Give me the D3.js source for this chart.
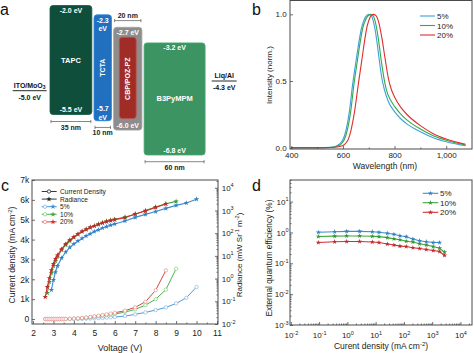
<!DOCTYPE html>
<html>
<head>
<meta charset="utf-8">
<script src="https://cdn.jsdelivr.net/npm/d3@7"></script>
<style>
  body { margin: 0; background: #fff; }
  svg { display: block; font-family: Arial, "Liberation Sans", sans-serif; }
</style>
</head>
<body>
<div id="fig"></div>
<script>
// ---------- panel a : device energy levels ----------
var layerNames = ["TAPC", "TCTA", "CBP/POZ-PZ", "B3PyMPM"];
var layerLumo = [-2.0, -2.3, -2.7, -3.2];
var layerHomo = [-5.5, -5.7, -6.0, -6.8];
var layerThick = [35, 10, 20, 60];
var electrodeNames = ["ITO/MoO", "Liq/Al"];
var electrodeSub = ["3", ""];
var electrodeLevels = [-5.0, -4.3];

// ---------- panel b : EL spectra ----------
var specSeries = ["5%", "10%", "20%"];
var specWl5 = [400, 500, 550, 575, 600, 625, 638, 650, 675, 700, 710, 720, 730, 740, 750, 760, 775, 800, 825, 850, 900, 950, 1000, 1075];
var specI5 = [0, 0, 0.002, 0.012, 0.06, 0.27, 0.48, 0.64, 0.92, 1.0, 0.99, 0.93, 0.82, 0.67, 0.53, 0.44, 0.35, 0.27, 0.215, 0.175, 0.12, 0.075, 0.045, 0.015];
var specWl10 = [400, 500, 550, 580, 605, 630, 643, 655, 680, 707, 717, 727, 737, 748, 759, 769, 785, 800, 825, 850, 900, 950, 1000, 1075];
var specI10 = [0, 0, 0.001, 0.012, 0.06, 0.27, 0.48, 0.64, 0.92, 1.0, 0.99, 0.93, 0.82, 0.66, 0.52, 0.43, 0.355, 0.31, 0.25, 0.205, 0.14, 0.09, 0.055, 0.02];
var specWl20 = [400, 500, 560, 595, 620, 645, 660, 672, 695, 717, 728, 740, 752, 764, 776, 787, 800, 825, 850, 900, 950, 1000, 1075];
var specI20 = [0, 0, 0.001, 0.012, 0.06, 0.27, 0.48, 0.64, 0.92, 1.0, 0.99, 0.93, 0.81, 0.66, 0.52, 0.44, 0.38, 0.30, 0.245, 0.165, 0.105, 0.065, 0.025];

// ---------- panel c : J-V-R ----------
var cdV = [2.6, 2.7, 2.8, 2.9, 3.0, 3.1, 3.2, 3.3, 3.4, 3.5, 3.6, 3.8, 4.0, 4.2, 4.4, 4.6, 4.8, 5.0, 5.2, 5.4, 5.6, 5.8, 6.0, 6.5, 7.0, 7.5, 8.0, 8.5, 9.0, 9.5, 10.0];
var cd5 = [0, 0, 0, 0, 0, 0, 0, 0, 1, 1, 2, 3, 5, 8, 12, 18, 25, 35, 45, 58, 70, 85, 100, 150, 235, 335, 450, 585, 785, 1070, 1615];
var cd10 = [0, 0, 0, 0, 0, 0, 1, 1, 2, 3, 4, 8, 15, 25, 40, 60, 85, 115, 140, 170, 200, 225, 250, 350, 485, 700, 1000, 1480, 2530];
var cd20 = [0, 0, 0, 0, 0, 1, 1, 2, 3, 5, 7, 12, 22, 35, 55, 80, 105, 135, 165, 200, 235, 275, 315, 420, 590, 870, 1450, 2450];
var radV5 = [2.9, 3.0, 3.1, 3.2, 3.4, 3.6, 3.8, 4.0, 4.2, 4.4, 4.6, 4.8, 5.0, 5.2, 5.4, 5.6, 5.8, 6.0, 6.5, 7.0, 7.5, 8.0, 8.5, 9.0, 9.5, 10.0];
var rad5 = [0.315, 0.867, 1.95, 3.59, 8.08, 14.8, 23.7, 33.4, 45.3, 59.0, 75.2, 94.0, 118, 141, 169, 195, 225, 254, 344, 496, 673, 893, 1236, 1676, 2138, 3143];
var radV10 = [2.7, 2.8, 2.9, 3.0, 3.1, 3.2, 3.4, 3.6, 3.8, 4.0, 4.2, 4.4, 4.6, 4.8, 5.0, 5.2, 5.4, 5.6, 5.8, 6.0, 6.5, 7.0, 7.5, 8.0, 8.5, 9.0];
var rad10 = [0.232, 0.708, 1.77, 3.59, 5.96, 9.31, 18.2, 30.2, 45.3, 65.3, 88.5, 118, 147, 180, 212, 249, 293, 337, 374, 405, 517, 687, 989, 1426, 1972, 2513];
var radV20 = [2.6, 2.7, 2.8, 2.9, 3.0, 3.1, 3.2, 3.4, 3.6, 3.8, 4.0, 4.2, 4.4, 4.6, 4.8, 5.0, 5.2, 5.4, 5.6, 5.8, 6.0, 6.5, 7.0, 7.5, 8.0, 8.5];
var rad20 = [0.155, 0.427, 1.06, 2.39, 4.40, 7.30, 10.9, 20.1, 33.4, 50.1, 68.0, 92.2, 120, 147, 180, 207, 244, 281, 324, 359, 397, 476, 700, 950, 1368, 1932];

// ---------- panel d : EQE ----------
var eqeJ = [0.094, 0.356, 0.944, 2.72, 7.62, 13.1, 25.9, 44.4, 72.3, 121, 208, 359, 618, 1094, 1825, 2742];
var eqe5 = [1.01, 1.05, 1.08, 1.08, 1.05, 1.01, 0.94, 0.87, 0.78, 0.73, 0.61, 0.54, 0.50, 0.47, 0.47];
var eqe10 = [0.74, 0.76, 0.77, 0.77, 0.75, 0.73, 0.68, 0.62, 0.58, 0.52, 0.49, 0.43, 0.39, 0.35, 0.31, 0.23];
var eqe20 = [0.47, 0.50, 0.51, 0.51, 0.49, 0.47, 0.42, 0.39, 0.36, 0.35, 0.32, 0.30, 0.28, 0.26, 0.24, 0.18];

var W = 474, H = 353;
var FRAME = "#4a4a4a", TXT = "#222";
var specCol = ["#3f9fdc", "#35a84a", "#dd2f2f"];
var devCol = ["#3a8dd6", "#3aa83a", "#d42f2f"];
var cdCol = ["#7fb9e8", "#7fcf7a", "#ee8c8c"];

var svg = d3.select("#fig").append("svg").attr("width", W).attr("height", H);
svg.append("rect").attr("width", W).attr("height", H).attr("fill", "#fff");

function frame(x0, y0, x1, y1) {
  svg.append("rect").attr("x", x0).attr("y", y0).attr("width", x1 - x0).attr("height", y1 - y0)
    .attr("fill", "none").attr("stroke", FRAME).attr("stroke-width", 1);
}
function styleAxis(g, fs) {
  g.attr("font-size", fs || 8).attr("font-family", null);
  g.select(".domain").remove();
  g.selectAll("line").attr("stroke", FRAME).attr("stroke-width", 0.8);
  g.selectAll("text").attr("fill", TXT);
  return g;
}
function supLabels(g) {
  g.selectAll("text").each(function (d) {
    var t = d3.select(this).text("");
    t.append("tspan").text("10");
    t.append("tspan").attr("dy", -3.5).attr("font-size", 5.5).text(Math.round(Math.log10(d)));
  });
}
function richText(sel, parts, fs) {
  var back = 0;
  parts.forEach(function (p) {
    var t = sel.append("tspan").text(p[0]);
    if (p[1]) { t.attr("dy", -fs * 0.4).attr("font-size", fs * 0.7); back = fs * 0.4; }
    else if (back) { t.attr("dy", back); back = 0; }
  });
}
function panelLetter(x, y, s) {
  svg.append("text").attr("x", x).attr("y", y).attr("font-size", 16).attr("fill", "#111").text(s);
}
function logMinors(lo, hi, maxV) {
  var out = [];
  for (var k = lo; k <= hi; k++) for (var m = 2; m <= 9; m++) {
    var v = m * Math.pow(10, k);
    if (v <= maxV) out.push(v);
  }
  return out;
}

// ================= panel a =================
panelLetter(0, 15, "a");
var gA = svg.append("g");
var colA = ["#0f4e3b", "#2170c0", "#8d8d8d", "#3c9463"];
var ey = d3.scaleLinear().domain([-2.0, -6.8]).range([5.5, 155]);
var wA = d3.scalePow().exponent(0.7).domain([0, 60]).range([0, 61]);
var lx = [], cur = 50;
layerThick.forEach(function (t) { lx.push(cur); cur += wA(t) + 2.2; });

function bold(g, x, y, s, fill, fs) {
  return g.append("text").attr("x", x).attr("y", y).attr("text-anchor", "middle")
    .attr("font-size", fs || 7).attr("font-weight", "bold").attr("fill", fill).text(s);
}
function dimLine(x0, x1, y, label, above) {
  gA.append("line").attr("x1", x0 + 1).attr("x2", x1 - 1).attr("y1", y).attr("y2", y)
    .attr("stroke", "#555").attr("stroke-width", 0.7);
  [x0 + 1, x1 - 1].forEach(function (x) {
    gA.append("line").attr("x1", x).attr("x2", x).attr("y1", y - 1.6).attr("y2", y + 1.6)
      .attr("stroke", "#555").attr("stroke-width", 0.7);
  });
  bold(gA, (x0 + x1) / 2, above ? y - 2.5 : y + 8, label, "#222", 7);
}

layerNames.forEach(function (name, i) {
  var x0 = lx[i], w = wA(layerThick[i]), yt = ey(layerLumo[i]), yb = ey(layerHomo[i]);
  var cx = x0 + w / 2, cy = (yt + yb) / 2;
  gA.append("rect").attr("x", x0).attr("y", yt).attr("width", w).attr("height", yb - yt)
    .attr("rx", 3).attr("fill", colA[i]).attr("stroke", d3.color(colA[i]).brighter(0.4)).attr("stroke-width", 0.8);
  if (i === 2) {
    gA.append("rect").attr("x", x0 + 5.7).attr("y", yt + 10).attr("width", w - 11.4).attr("height", yb - yt - 21.5)
      .attr("rx", 3).attr("fill", "#a02c28").attr("stroke", "#c0504a").attr("stroke-width", 0.8);
  }
  var lumo = layerLumo[i].toFixed(1), homo = layerHomo[i].toFixed(1);
  if (w < 20) {
    bold(gA, cx, yt + 8, lumo, "#fff"); bold(gA, cx, yt + 16.5, "eV", "#fff");
    bold(gA, cx, yb - 9.8, homo, "#fff"); bold(gA, cx, yb - 1.2, "eV", "#fff");
  } else {
    bold(gA, cx, yt + 7.5, lumo + " eV", "#fff");
    bold(gA, cx, yb - 2.5, homo + " eV", "#fff");
  }
  if (i === 1 || i === 2) {
    gA.append("text").attr("transform", "translate(" + cx + "," + cy + ") rotate(-90)")
      .attr("text-anchor", "middle").attr("dy", "0.35em").attr("font-size", 7)
      .attr("font-weight", "bold").attr("fill", "#fff").text(name);
  } else {
    bold(gA, cx, cy + 2.5, name, "#fff", 7.5);
  }
  if (i === 2) dimLine(x0, x0 + w, yt - 6.7, layerThick[i] + " nm", true);
  else dimLine(x0, x0 + w, yb + (i === 0 ? 7 : 6.7), layerThick[i] + " nm", false);
});

var elY = d3.scaleLinear().domain([-4.3, -5.0]).range([81, 90.7]);
var elX = [29.7, 224.2], elW = [34, 25];
electrodeNames.forEach(function (n, i) {
  var y = elY(electrodeLevels[i]);
  gA.append("line").attr("x1", elX[i] - elW[i] / 2).attr("x2", elX[i] + elW[i] / 2)
    .attr("y1", y).attr("y2", y).attr("stroke", "#111").attr("stroke-width", 0.9);
  var t = bold(gA, elX[i], y - 3, "", "#111", 7);
  t.append("tspan").text(n);
  if (electrodeSub[i]) t.append("tspan").attr("dy", 1.5).attr("font-size", 5).text(electrodeSub[i]);
  bold(gA, elX[i], y + 9, electrodeLevels[i].toFixed(1) + " eV", "#111", 7);
});

// ================= panel b =================
panelLetter(252, 15, "b");
var xB = d3.scaleLinear().domain([395, 1100]).range([290, 472]);
var yB = d3.scaleLinear().domain([-0.01, 1.1]).range([149, 1]);
var specX = [specWl5, specWl10, specWl20], specY = [specI5, specI10, specI20];
var lineB = d3.line().x(function (d) { return xB(d[0]); }).y(function (d) { return yB(d[1]); }).curve(d3.curveMonotoneX);
specX.forEach(function (wl, k) {
  svg.append("path").datum(d3.zip(wl, specY[k])).attr("d", lineB)
    .attr("fill", "none").attr("stroke", specCol[k]).attr("stroke-width", 1.1);
});
styleAxis(svg.append("g").attr("transform", "translate(0,149)")
  .call(d3.axisBottom(xB).tickValues([400, 600, 800, 1000]).tickSize(-3).tickPadding(3.3)));
styleAxis(svg.append("g").attr("transform", "translate(0,149)")
  .call(d3.axisBottom(xB).tickValues([500, 700, 900]).tickSize(-1.5).tickFormat("")));
styleAxis(svg.append("g").attr("transform", "translate(290,0)")
  .call(d3.axisLeft(yB).tickValues([0, 0.5, 1.0]).tickSize(-3).tickPadding(3.3).tickFormat(d3.format(".1f"))));
frame(290, 0.5, 472, 149);
svg.append("text").attr("transform", "translate(269,75) rotate(-90)").attr("text-anchor", "middle")
  .attr("dy", "0.35em").attr("font-size", 8).attr("fill", TXT).text("Intensity (norm.)");
svg.append("text").attr("x", 385).attr("y", 169).attr("text-anchor", "middle")
  .attr("font-size", 8.5).attr("fill", TXT).text("Wavelength (nm)");
specSeries.forEach(function (s, k) {
  var y = 16 + k * 9.5;
  svg.append("line").attr("x1", 420).attr("x2", 435).attr("y1", y).attr("y2", y)
    .attr("stroke", specCol[k]).attr("stroke-width", 1.1);
  svg.append("text").attr("x", 437).attr("y", y + 3).attr("font-size", 8).attr("fill", TXT).text(s);
});

// ================= panel c =================
panelLetter(1, 191, "c");
var xC = d3.scaleLinear().domain([2, 11]).range([33, 217]);
var yC = d3.scaleLinear().domain([-250, 7000]).range([324, 180]);
var yR = d3.scaleLog().domain([1e-2, 2.2e4]).range([324, 180]);
var cdSets = [cd5, cd10, cd20], radVs = [radV5, radV10, radV20], radSets = [rad5, rad10, rad20];
var star = d3.symbol().type(d3.symbolStar).size(9);

cdSets.forEach(function (vals, k) {
  var pts = vals.map(function (v, i) { return [xC(cdV[i]), yC(v)]; });
  svg.append("path").datum(pts).attr("d", d3.line()).attr("fill", "none")
    .attr("stroke", devCol[k]).attr("stroke-width", 0.9);
  svg.append("g").selectAll("circle").data(pts).join("circle")
    .attr("cx", function (d) { return d[0]; }).attr("cy", function (d) { return d[1]; })
    .attr("r", 1.7).attr("fill", "#fff").attr("stroke", cdCol[k]).attr("stroke-width", 0.7);
});
radSets.forEach(function (vals, k) {
  var pts = vals.map(function (v, i) { return [xC(radVs[k][i]), yR(v)]; });
  svg.append("path").datum(pts).attr("d", d3.line()).attr("fill", "none")
    .attr("stroke", devCol[k]).attr("stroke-width", 1.1);
  svg.append("g").selectAll("path").data(pts).join("path")
    .attr("d", star).attr("transform", function (d) { return "translate(" + d[0] + "," + d[1] + ")"; })
    .attr("fill", d3.color(devCol[k]).darker(0.3));
});

styleAxis(svg.append("g").attr("transform", "translate(0,324)")
  .call(d3.axisBottom(xC).tickValues(d3.range(2, 12)).tickSize(-3).tickPadding(6.3)), 8.5);
styleAxis(svg.append("g").attr("transform", "translate(0,324)")
  .call(d3.axisBottom(xC).tickValues(d3.range(2.5, 11, 1)).tickSize(-1.5).tickFormat("")));
styleAxis(svg.append("g").attr("transform", "translate(32,0)")
  .call(d3.axisLeft(yC).tickValues(d3.range(0, 7001, 1000)).tickSize(-3).tickPadding(2.7)
    .tickFormat(function (d) { return d === 0 ? "0" : (d / 1000) + "k"; })), 8.5);
var gR = styleAxis(svg.append("g").attr("transform", "translate(218,0)")
  .call(d3.axisRight(yR).tickValues([1e-2, 1e-1, 1, 10, 100, 1e3, 1e4]).tickSize(-3).tickPadding(3.7)), 8);
supLabels(gR);
styleAxis(svg.append("g").attr("transform", "translate(218,0)")
  .call(d3.axisRight(yR).tickValues(logMinors(-2, 4, 2.2e4)).tickSize(-1.5).tickFormat("")));
frame(32, 180, 218, 324);

var ylc = svg.append("text").attr("transform", "translate(12,255) rotate(-90)").attr("text-anchor", "middle")
  .attr("dy", "0.35em").attr("font-size", 8.5).attr("fill", TXT);
richText(ylc, [["Current density (mA cm", 0], ["-2", 1], [")", 0]], 8.5);
var yrc = svg.append("text").attr("transform", "translate(239,255) rotate(-90)").attr("text-anchor", "middle")
  .attr("dy", "0.35em").attr("font-size", 8).attr("fill", TXT);
richText(yrc, [["Radiance (mW Sr", 0], ["-1", 1], [" m", 0], ["-2", 1], [")", 0]], 8);
svg.append("text").attr("x", 120).attr("y", 351).attr("text-anchor", "middle")
  .attr("font-size", 9).attr("fill", TXT).text("Voltage (V)");

var legC = ["Current Density", "Radiance"].concat(specSeries);
legC.forEach(function (s, i) {
  var y = 191.5 + i * 7.6;
  var c = i < 2 ? "#222" : devCol[i - 2];
  svg.append("line").attr("x1", 41.7).attr("x2", 56.7).attr("y1", y).attr("y2", y)
    .attr("stroke", c).attr("stroke-width", 0.9);
  if (i !== 1) svg.append("circle").attr("cx", i === 0 ? 49 : 45).attr("cy", y).attr("r", 1.7)
    .attr("fill", "#fff").attr("stroke", i === 0 ? "#222" : cdCol[i - 2]).attr("stroke-width", 0.8);
  if (i !== 0) svg.append("path").attr("d", star).attr("transform", "translate(" + (i === 1 ? 49 : 53) + "," + y + ")")
    .attr("fill", c);
  svg.append("text").attr("x", 60).attr("y", y + 2.5).attr("font-size", 6.6).attr("fill", TXT).text(s);
});

// ================= panel d =================
panelLetter(252, 191, "d");
var xD = d3.scaleLog().domain([Math.pow(10, -2.03), Math.pow(10, 4.41)]).range([290, 472]);
var yD = d3.scaleLog().domain([1e-3, Math.pow(10, 1.7)]).range([325, 180]);
var eqeSets = [eqe5, eqe10, eqe20];
var starD = d3.symbol().type(d3.symbolStar).size(8);
eqeSets.forEach(function (vals, k) {
  var pts = vals.map(function (v, i) { return [xD(eqeJ[i]), yD(v)]; });
  svg.append("path").datum(pts).attr("d", d3.line()).attr("fill", "none")
    .attr("stroke", devCol[k]).attr("stroke-width", 1.1);
  svg.append("g").selectAll("path").data(pts).join("path")
    .attr("d", starD).attr("transform", function (d) { return "translate(" + d[0] + "," + d[1] + ")"; })
    .attr("fill", d3.color(devCol[k]).darker(0.3));
});
var gDx = styleAxis(svg.append("g").attr("transform", "translate(0,325)")
  .call(d3.axisBottom(xD).tickValues([1e-2, 1e-1, 1, 10, 100, 1e3, 1e4]).tickSize(-3).tickPadding(7.8)), 8);
supLabels(gDx);
styleAxis(svg.append("g").attr("transform", "translate(0,325)")
  .call(d3.axisBottom(xD).tickValues(logMinors(-2, 4, 2.5e4)).tickSize(-1.5).tickFormat("")));
var gDy = styleAxis(svg.append("g").attr("transform", "translate(290,0)")
  .call(d3.axisLeft(yD).tickValues([1e-3, 1e-2, 1e-1, 1, 10]).tickSize(-3).tickPadding(1.5)), 8);
supLabels(gDy);
styleAxis(svg.append("g").attr("transform", "translate(290,0)")
  .call(d3.axisLeft(yD).tickValues(logMinors(-3, 1, 50)).tickSize(-1.5).tickFormat("")));
frame(290, 180, 472, 325);
svg.append("text").attr("transform", "translate(269.5,258) rotate(-90)").attr("text-anchor", "middle")
  .attr("dy", "0.35em").attr("font-size", 8.3).attr("fill", TXT).text("External quantum efficiency (%)");
var xld = svg.append("text").attr("x", 381).attr("y", 349).attr("text-anchor", "middle")
  .attr("font-size", 8.5).attr("fill", TXT);
richText(xld, [["Curent density (mA cm", 0], ["-2", 1], [")", 0]], 8.5);
specSeries.forEach(function (s, k) {
  var y = [193.3, 202.7, 212.3][k];
  svg.append("line").attr("x1", 422.7).attr("x2", 438.3).attr("y1", y).attr("y2", y)
    .attr("stroke", devCol[k]).attr("stroke-width", 1.1);
  svg.append("path").attr("d", starD).attr("transform", "translate(430.5," + y + ")")
    .attr("fill", d3.color(devCol[k]).darker(0.3));
  svg.append("text").attr("x", 440).attr("y", y + 3).attr("font-size", 8).attr("fill", TXT).text(s);
});
</script>
</body>
</html>
